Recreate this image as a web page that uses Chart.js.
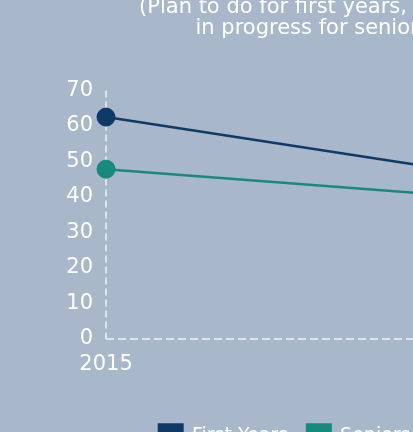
<!DOCTYPE html>
<html>
<head>
<meta charset="utf-8">
<script src="https://cdn.jsdelivr.net/npm/chart.js@4"></script>
<style>
  html, body { margin: 0; padding: 0; overflow: hidden; background: #a8b8ca; }
  #wrap { position: absolute; left: 0; top: -10px; width: 580px; height: 468px; }
</style>
</head>
<body>
<div id="wrap"><canvas id="graf"></canvas></div>
<script>
// data
var years = ['2015', '2018'];
var firstYears = [62.5, 47.0];
var seniors = [47.8, 40.1];
var yTicks = [0, 10, 20, 30, 40, 50, 60, 70];
var titleLines = ['(Plan to do for first years, done or', 'in progress for seniors)'];

var navy = '#0f3a68';
var teal = '#178a7b';
var dashCol = '#dce3ea';

Chart.defaults.font.family = "'DejaVu Sans', sans-serif";
Chart.defaults.color = '#ffffff';

var ctx = document.getElementById('graf').getContext('2d');
var graf = new Chart(ctx, {
    type: 'line',
    data: {
        labels: years,
        datasets: [{
            label: 'First Years',
            data: firstYears,
            borderColor: navy,
            backgroundColor: navy,
            borderWidth: 2.5,
            pointRadius: 9,
            pointBorderWidth: 1,
            tension: 0
        }, {
            label: 'Seniors',
            data: seniors,
            borderColor: teal,
            backgroundColor: teal,
            borderWidth: 2.5,
            pointRadius: 9,
            pointBorderWidth: 1,
            tension: 0
        }]
    },
    options: {
        responsive: true,
        maintainAspectRatio: false,
        animation: false,
        layout: { padding: { left: 53.3 } },
        plugins: {
            title: {
                display: true,
                text: titleLines,
                color: '#ffffff',
                font: { size: 21, weight: 'normal', lineHeight: 1.0 },
                padding: { top: 7, bottom: 51.5 }
            },
            legend: {
                position: 'bottom',
                fullSize: false,
                labels: {
                    color: '#ffffff',
                    font: { size: 19 },
                    boxWidth: 23.5,
                    boxHeight: 23.5,
                    padding: 19
                }
            },
            tooltip: { enabled: false }
        },
        scales: {
            x: {
                offset: false,
                z: 1,
                grid: {
                    display: true,
                    drawTicks: false,
                    lineWidth: 2,
                    color: function (c) { return c.index === 0 ? dashCol : 'transparent'; }
                },
                border: { display: false, dash: [7, 4] },
                ticks: { color: '#ffffff', font: { size: 21 }, padding: 13.5, maxRotation: 0 },
                afterFit: function (s) { s.height = 67; }
            },
            y: {
                min: 0,
                max: 70,
                z: 1,
                grid: {
                    display: true,
                    drawTicks: false,
                    lineWidth: 2,
                    color: function (c) { return c.tick && c.tick.value === 0 ? dashCol : 'transparent'; }
                },
                border: { display: false, dash: [8, 4] },
                ticks: {
                    color: '#ffffff',
                    font: { size: 21 },
                    padding: 13,
                    stepSize: 10,
                    callback: function (v) { return yTicks.indexOf(v) >= 0 ? v : ''; }
                }
            },
            y2: {
                position: 'right',
                display: true,
                grid: { display: false, drawTicks: false },
                border: { display: false },
                ticks: { display: false },
                afterFit: function (s) { s.width = 116.6; }
            }
        }
    }
});
</script>
</body>
</html>
